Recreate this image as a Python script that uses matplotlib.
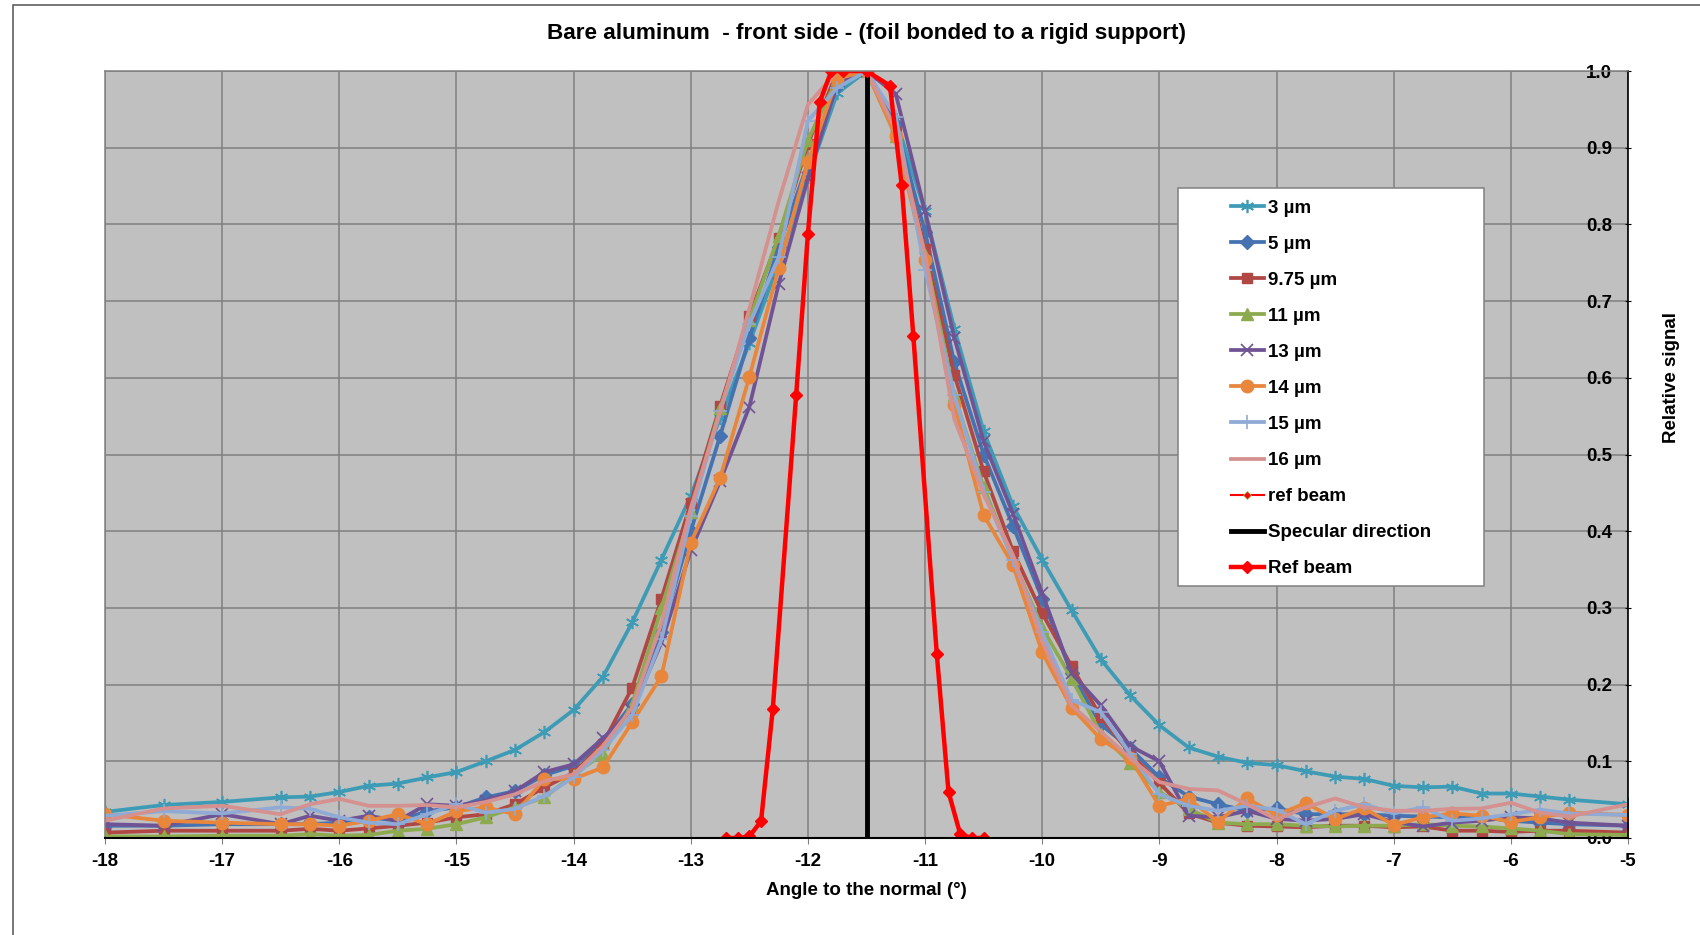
import matplotlib
matplotlib.use("Agg")
import matplotlib.pyplot as plt
from matplotlib.patches import Rectangle

plt.rcParams['font.family'] = ['Liberation Sans', 'DejaVu Sans']
plt.rcParams['font.weight'] = 'bold'

# ---------------- data ----------------
angles = [-18, -17.5, -17, -16.5, -16.25, -16, -15.75, -15.5, -15.25, -15, -14.75, -14.5,
          -14.25, -14, -13.75, -13.5, -13.25, -13, -12.75, -12.5, -12.25, -12, -11.75,
          -11.5, -11.25, -11, -10.75, -10.5, -10.25, -10, -9.75, -9.5, -9.25, -9, -8.75,
          -8.5, -8.25, -8, -7.75, -7.5, -7.25, -7, -6.75, -6.5, -6.25, -6, -5.75, -5.5, -5]

s3 = [0.034, 0.043, 0.047, 0.053, 0.054, 0.060, 0.068, 0.071, 0.079, 0.086, 0.100, 0.115, 0.138, 0.167,
      0.210, 0.281, 0.363, 0.446, 0.548, 0.645, 0.750, 0.862, 0.971, 1.0,
      0.937, 0.817, 0.664, 0.530, 0.433, 0.363, 0.297, 0.233, 0.186, 0.147,
      0.118, 0.106, 0.098, 0.095, 0.087, 0.080, 0.077, 0.068, 0.066, 0.067, 0.058, 0.058, 0.054, 0.050, 0.044]
s5 = [0.016, 0.016, 0.018, 0.018, 0.018, 0.020, 0.027, 0.0225, 0.035, 0.040, 0.053, 0.061, 0.082, 0.094,
      0.125, 0.175, 0.268, 0.400, 0.524, 0.652, 0.770, 0.880, 0.980, 1.0,
      0.930, 0.790, 0.620, 0.500, 0.407, 0.312, 0.215, 0.148, 0.117, 0.079,
      0.054, 0.044, 0.0355, 0.0385, 0.031, 0.031, 0.031, 0.029, 0.028, 0.027, 0.027, 0.0225, 0.020, 0.018, 0.016]
s975 = [0.007, 0.0095, 0.0095, 0.0095, 0.012, 0.0095, 0.0125, 0.016, 0.020, 0.027, 0.031, 0.044, 0.066, 0.085,
        0.123, 0.196, 0.312, 0.437, 0.563, 0.681, 0.782, 0.905, 0.999, 1.0,
        0.921, 0.768, 0.604, 0.478, 0.374, 0.293, 0.224, 0.158, 0.110, 0.072,
        0.032, 0.020, 0.016, 0.015, 0.014, 0.016, 0.016, 0.014, 0.015, 0.0095, 0.0095, 0.008, 0.0095, 0.0095, 0.007]
s11 = [0.002, 0.002, 0.003, 0.003, 0.005, 0.003, 0.004, 0.0095, 0.012, 0.018, 0.027, 0.040, 0.053, 0.082,
       0.110, 0.174, 0.300, 0.425, 0.560, 0.675, 0.785, 0.910, 0.990, 1.0,
       0.915, 0.760, 0.577, 0.457, 0.363, 0.274, 0.208, 0.136, 0.098, 0.060,
       0.038, 0.020, 0.018, 0.018, 0.016, 0.015, 0.016, 0.016, 0.018, 0.016, 0.015, 0.0125, 0.0095, 0.005, 0.004]
s13 = [0.018, 0.016, 0.031, 0.018, 0.029, 0.0225, 0.029, 0.0225, 0.044, 0.042, 0.0485, 0.061, 0.086, 0.096,
       0.130, 0.167, 0.255, 0.375, 0.465, 0.562, 0.722, 0.860, 0.984, 1.0,
       0.970, 0.817, 0.652, 0.517, 0.423, 0.319, 0.215, 0.173, 0.120, 0.100,
       0.029, 0.027, 0.0355, 0.025, 0.0225, 0.025, 0.031, 0.021, 0.015, 0.020, 0.0225, 0.027, 0.0255, 0.020, 0.016]
s14 = [0.031, 0.0225, 0.020, 0.018, 0.018, 0.016, 0.0225, 0.031, 0.018, 0.035, 0.040, 0.031, 0.077, 0.077,
       0.092, 0.151, 0.211, 0.385, 0.469, 0.601, 0.743, 0.881, 0.990, 1.0,
       0.915, 0.754, 0.565, 0.421, 0.356, 0.242, 0.170, 0.129, 0.104, 0.042,
       0.051, 0.021, 0.0515, 0.030, 0.0455, 0.025, 0.0385, 0.017, 0.027, 0.032, 0.029, 0.021, 0.027, 0.033, 0.030]
s15 = [0.029, 0.035, 0.032, 0.040, 0.038, 0.027, 0.020, 0.018, 0.031, 0.044, 0.033, 0.038, 0.055, 0.079,
       0.115, 0.160, 0.259, 0.420, 0.557, 0.670, 0.757, 0.935, 0.978, 1.0,
       0.940, 0.741, 0.577, 0.451, 0.363, 0.268, 0.180, 0.164, 0.110, 0.057,
       0.042, 0.0355, 0.042, 0.037, 0.018, 0.0355, 0.044, 0.032, 0.040, 0.0225, 0.0255, 0.031, 0.037, 0.032, 0.030]
s16 = [0.0225, 0.0385, 0.042, 0.031, 0.044, 0.051, 0.042, 0.042, 0.043, 0.040, 0.047, 0.057, 0.074, 0.083,
       0.120, 0.170, 0.280, 0.430, 0.555, 0.690, 0.830, 0.956, 1.0, 1.0,
       0.924, 0.760, 0.546, 0.448, 0.369, 0.256, 0.173, 0.139, 0.104, 0.073,
       0.064, 0.062, 0.044, 0.024, 0.040, 0.0515, 0.040, 0.0355, 0.0355, 0.038, 0.0385, 0.046, 0.033, 0.028, 0.044]

ref_angles = [-12.7, -12.6, -12.5, -12.4, -12.3, -12.1, -12.0, -11.9, -11.8, -11.7, -11.5,
              -11.3, -11.2, -11.1, -10.9, -10.8, -10.7, -10.6, -10.5]
ref_values = [0.0, 0.0, 0.002, 0.022, 0.168, 0.578, 0.788, 0.959, 1.0, 1.0, 1.0,
              0.981, 0.852, 0.654, 0.240, 0.060, 0.005, 0.0, 0.0]

specular_x = [-11.5, -11.5]
specular_y = [0.0, 1.0]

x_ticks = list(range(-18, -4))
y_ticks = [0.0, 0.1, 0.2, 0.3, 0.4, 0.5, 0.6, 0.7, 0.8, 0.9, 1.0]

title = "Bare aluminum  - front side - (foil bonded to a rigid support)"
xlabel = "Angle to the normal (°)"
ylabel = "Relative signal"

# ---------------- figure ----------------
fig = plt.figure(figsize=(17, 9.35), dpi=100)
ax = fig.add_axes([105 / 1700, 97 / 935, 1523 / 1700, 767 / 935])
ax.set_facecolor('#C0C0C0')

# outer chart border
fig.patches.append(Rectangle((13 / 1700, -0.2), 1.5, 1.2 - 5 / 935, transform=fig.transFigure,
                             fill=False, edgecolor='#606060', lw=1.2))

series = [
    (s3, '3 µm', '#3E9BB6', dict(marker=(6, 2, 0), ms=9.5, mew=1.2)),
    (s5, '5 µm', '#4572B0', dict(marker='D', ms=7)),
    (s975, '9.75 µm', '#B04744', dict(marker='s', ms=7.5)),
    (s11, '11 µm', '#8DAA4F', dict(marker='^', ms=8.5)),
    (s13, '13 µm', '#705394', dict(marker='x', ms=8.5, mew=1.2)),
    (s14, '14 µm', '#E8873C', dict(marker='o', ms=9)),
    (s15, '15 µm', '#8FAAD4', dict(marker='+', ms=10.5, mew=1.2)),
    (s16, '16 µm', '#D4918F', dict(marker='None')),
]
for vals, lab, col, mk in series:
    ax.plot(angles, vals, color=col, lw=2.7, label=lab, mfc=col, mec=col, **mk)

ax.plot(ref_angles, ref_values, color='#FF0000', lw=1.5, marker='D', ms=4,
        mfc='#FF0000', mec='#9BBB59', mew=0.6, label='ref beam')
ax.plot(specular_x, specular_y, color='black', lw=3.5, label='Specular direction')
ax.plot(ref_angles, ref_values, color='#FF0000', lw=3.2, marker='D', ms=6.5,
        mfc='#FF0000', mec='#FF0000', label='Ref beam')

ax.set_xlim(-18, -5)
ax.set_ylim(0, 1)
ax.set_xticks(x_ticks)
ax.set_xticklabels([str(v) for v in x_ticks])
ax.set_yticks(y_ticks)
ax.set_yticklabels([f"{v:.1f}" for v in y_ticks])
ax.grid(True, color='#808080', lw=1.1)
ax.set_axisbelow(True)

for side in ('left', 'top'):
    ax.spines[side].set_color('#808080')
    ax.spines[side].set_linewidth(1.1)
ax.spines['bottom'].set_color('black')
ax.spines['bottom'].set_linewidth(1.5)
ax.spines['right'].set_color('black')
ax.spines['right'].set_linewidth(1.2)
ax.spines['bottom'].set_zorder(3)

ax.tick_params(axis='x', direction='out', length=4, color='#808080', pad=7, labelsize=13.5)
ax.tick_params(axis='y', left=False, right=True, labelleft=False, labelright=True,
               direction='inout', length=5, color='black', pad=-14, labelsize=13.5)
for lab in ax.get_yticklabels():
    lab.set_horizontalalignment('right')
    lab.set_fontweight('bold')
for lab in ax.get_xticklabels():
    lab.set_fontweight('bold')

ax.set_title(title, fontsize=16.2, fontweight='bold', pad=23)
ax.set_xlabel(xlabel, fontsize=13.5, fontweight='bold')
ax.xaxis.set_label_coords(0.5, -0.058)
ax.set_ylabel(ylabel, fontsize=13.5, fontweight='bold')
ax.yaxis.set_label_position('right')
ax.yaxis.set_label_coords(1.023, 0.6)

# legend box
lx0 = (1177.5 - 105) / 1523
lx1 = (1484 - 105) / 1523
ly0 = (838 - 585.5) / 767
ly1 = (838 - 187.6) / 767
ax.add_patch(Rectangle((lx0, ly0), lx1 - lx0, ly1 - ly0, transform=ax.transAxes,
                       facecolor='white', edgecolor='#808080', lw=1.1, zorder=4.5))
leg = ax.legend(loc='upper left', bbox_to_anchor=((1231 - 105) / 1523, (838 - 199.5) / 767),
                frameon=False, borderpad=0, borderaxespad=0, handlelength=1.75,
                handletextpad=0.22, labelspacing=1.01, numpoints=1,
                prop={'size': 13.5, 'weight': 'bold'})
leg.set_zorder(5)

fig.savefig('out.png', dpi=100)
